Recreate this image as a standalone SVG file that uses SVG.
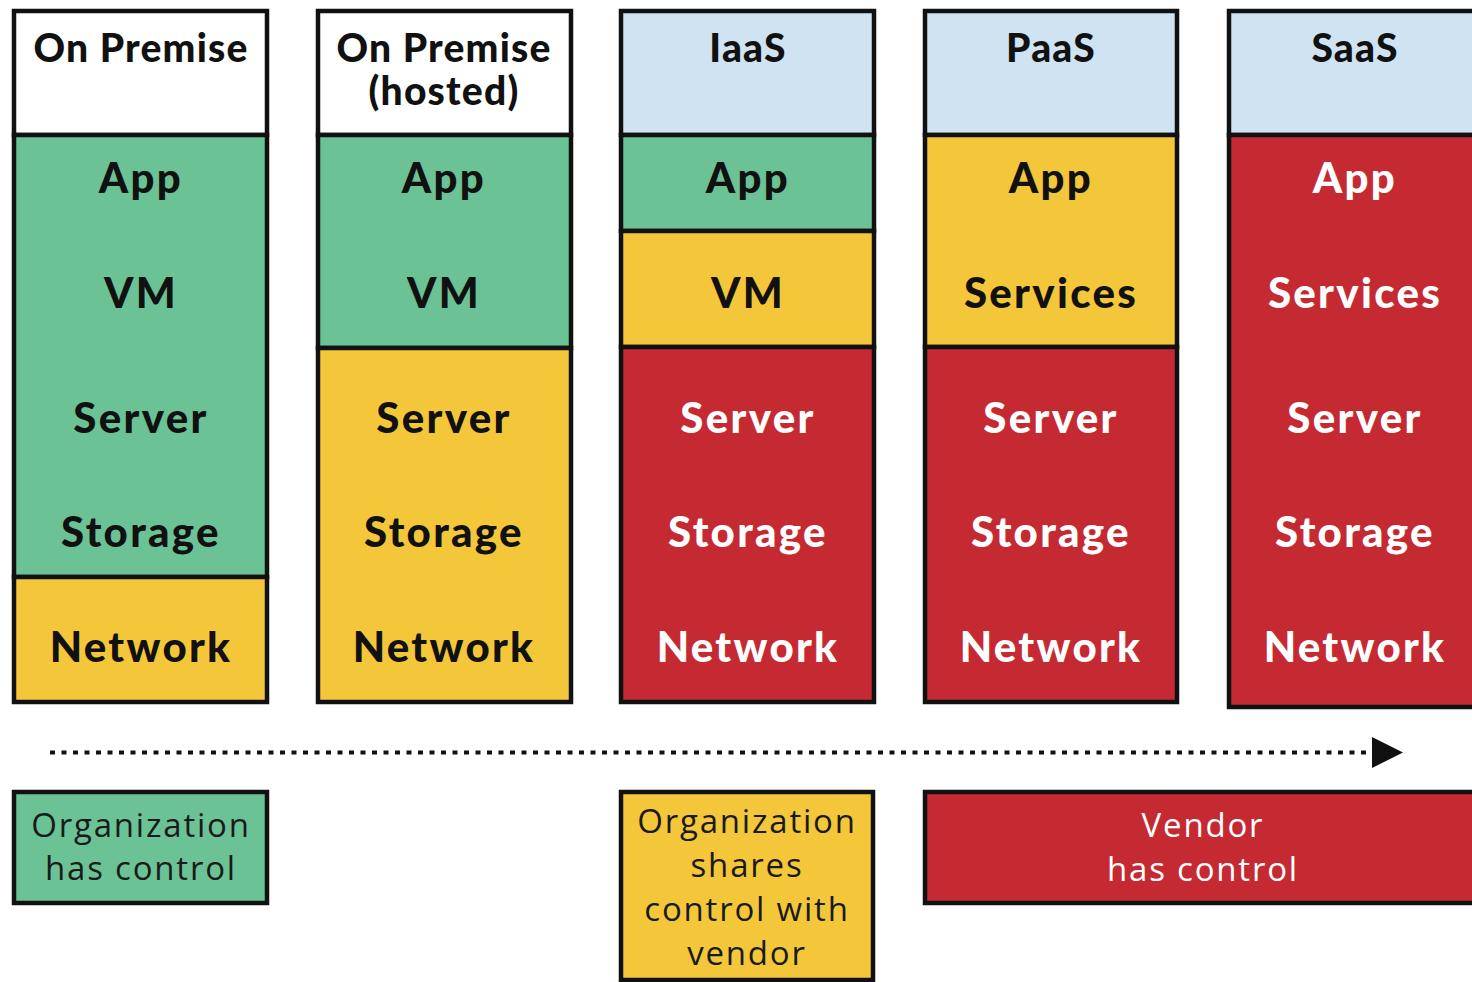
<svg xmlns="http://www.w3.org/2000/svg" width="1472" height="982" viewBox="0 0 1472 982">
<style>
.s{stroke:#111;stroke-width:4.5}
.w{fill:#ffffff}
.b{fill:#cfe3f2}
.g{fill:#6bc395}
.y{fill:#f4c73a}
.r{fill:#c52a33}
.h{font-family:Lato,"Open Sans",sans-serif;font-weight:900;font-size:39px;letter-spacing:1.2px;text-anchor:middle;fill:#111}
.t{font-family:Lato,"Open Sans",sans-serif;font-weight:900;font-size:42px;letter-spacing:2.3px;text-anchor:middle;fill:#111}
.tw{fill:#ffffff}
.l{font-family:"Open Sans",sans-serif;font-size:33px;letter-spacing:1.8px;text-anchor:middle;fill:#1a1a1a}
.lw{fill:#ffffff}
</style>
<defs>
<marker id="ah" markerWidth="32" markerHeight="32" refX="0" refY="15.5" orient="auto" markerUnits="userSpaceOnUse">
<path d="M0,0 L31,15.5 L0,31 Z" fill="#111"/>
</marker>
</defs>

<g id="col-onpremise">
<rect class="s w" x="14" y="11" width="253" height="124"/>
<rect class="s g" x="14" y="135" width="253" height="442"/>
<rect class="s y" x="14" y="577" width="253" height="125"/>
<text class="h" x="141" y="62">On Premise</text>
<text class="t" x="141" y="193">App</text>
<text class="t" x="141" y="308">VM</text>
<text class="t" x="141" y="433">Server</text>
<text class="t" x="141" y="547">Storage</text>
<text class="t" x="141" y="662">Network</text>
</g>

<g id="col-hosted">
<rect class="s w" x="318" y="11" width="253" height="124"/>
<rect class="s g" x="318" y="135" width="253" height="213"/>
<rect class="s y" x="318" y="348" width="253" height="354"/>
<text class="h" x="444" y="62">On Premise</text>
<text class="h" x="444" y="105">(hosted)</text>
<text class="t" x="444" y="193">App</text>
<text class="t" x="444" y="308">VM</text>
<text class="t" x="444" y="433">Server</text>
<text class="t" x="444" y="547">Storage</text>
<text class="t" x="444" y="662">Network</text>
</g>

<g id="col-iaas">
<rect class="s b" x="621" y="11" width="253" height="124"/>
<rect class="s g" x="621" y="135" width="253" height="96"/>
<rect class="s y" x="621" y="231" width="253" height="116"/>
<rect class="s r" x="621" y="347" width="253" height="355"/>
<text class="h" x="748" y="62">IaaS</text>
<text class="t" x="748" y="193">App</text>
<text class="t" x="748" y="308">VM</text>
<text class="t tw" x="748" y="433">Server</text>
<text class="t tw" x="748" y="547">Storage</text>
<text class="t tw" x="748" y="662">Network</text>
</g>

<g id="col-paas">
<rect class="s b" x="925" y="11" width="252" height="124"/>
<rect class="s y" x="925" y="135" width="252" height="212"/>
<rect class="s r" x="925" y="347" width="252" height="355"/>
<text class="h" x="1051" y="62">PaaS</text>
<text class="t" x="1051" y="193">App</text>
<text class="t" x="1051" y="308">Services</text>
<text class="t tw" x="1051" y="433">Server</text>
<text class="t tw" x="1051" y="547">Storage</text>
<text class="t tw" x="1051" y="662">Network</text>
</g>

<g id="col-saas">
<rect class="s b" x="1229" y="11" width="256" height="124"/>
<rect class="s r" x="1229" y="135" width="256" height="572"/>
<text class="h" x="1355" y="62">SaaS</text>
<text class="t tw" x="1355" y="193">App</text>
<text class="t tw" x="1355" y="308">Services</text>
<text class="t tw" x="1355" y="433">Server</text>
<text class="t tw" x="1355" y="547">Storage</text>
<text class="t tw" x="1355" y="662">Network</text>
</g>

<g id="connectors">
<line x1="50" y1="752.5" x2="1372" y2="752.5" stroke="#111" stroke-width="4" stroke-dasharray="5 6.5" marker-end="url(#ah)"/>
</g>

<g id="legend-org">
<rect class="s g" x="14" y="792" width="253" height="111"/>
<text class="l" x="141" y="837">Organization</text>
<text class="l" x="141" y="880">has control</text>
</g>

<g id="legend-shared">
<rect class="s y" x="621" y="792" width="252" height="188"/>
<text class="l" x="747" y="833">Organization</text>
<text class="l" x="747" y="877">shares</text>
<text class="l" x="747" y="921">control with</text>
<text class="l" x="747" y="965">vendor</text>
</g>

<g id="legend-vendor">
<rect class="s r" x="925" y="792" width="560" height="111"/>
<text class="l lw" x="1203" y="837">Vendor</text>
<text class="l lw" x="1203" y="881">has control</text>
</g>
</svg>
